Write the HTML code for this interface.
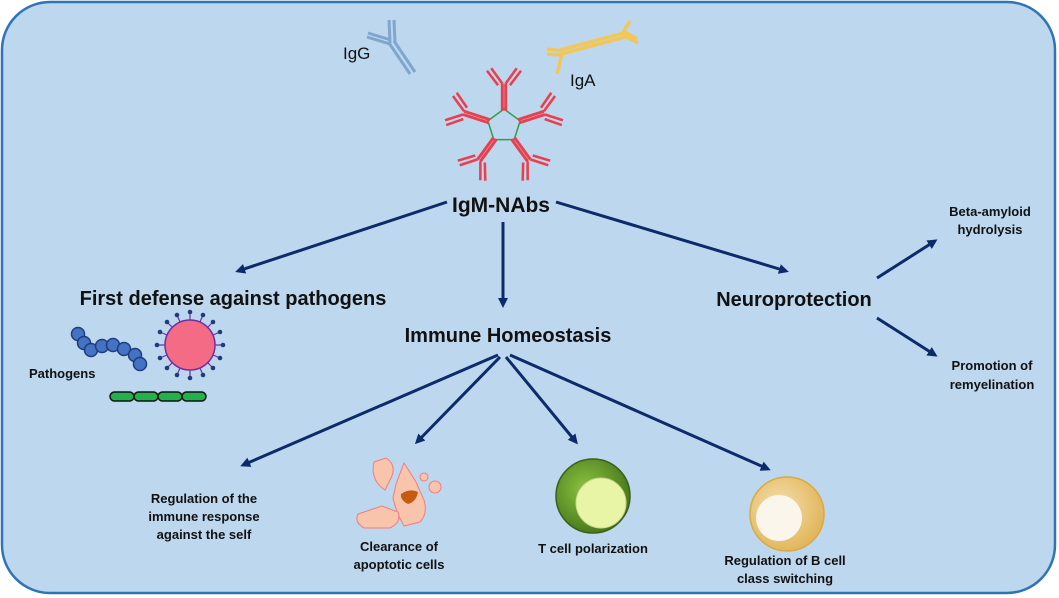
<!DOCTYPE html>
<html><head><meta charset="utf-8"><style>
html,body{margin:0;padding:0;background:#fff;}
svg{display:block;}
text{font-family:"Liberation Sans",Arial,sans-serif;fill:#111;}
.b{font-weight:bold;}
</style></head><body>
<svg width="1059" height="598" viewBox="0 0 1059 598" xmlns="http://www.w3.org/2000/svg">
<defs>
<marker id="ah" markerWidth="10" markerHeight="10" refX="7" refY="5" orient="auto" markerUnits="userSpaceOnUse">
<path d="M0,0 L10,5 L0,10 Z" fill="#0d2b6b"/>
</marker>
<g id="yr">
<path d="M-2,-18 V-50 M2,-18 V-50" stroke="#e8404f" stroke-width="3.5"/>
<path d="M-2,-50 L-15,-68 M2,-50 L15,-68 M-7,-48 L-20,-65 M7,-48 L20,-65" stroke="#e8404f" stroke-width="3"/>
</g>
<radialGradient id="tg" cx="40%" cy="40%" r="60%"><stop offset="0" stop-color="#8cc43f"/><stop offset="1" stop-color="#4a7a1e"/></radialGradient>
<radialGradient id="bg" cx="40%" cy="40%" r="60%"><stop offset="0" stop-color="#f5e0b0"/><stop offset="1" stop-color="#e2b75d"/></radialGradient>
</defs>
<rect x="2" y="2" width="1053" height="591" rx="48" fill="#bdd7ee" stroke="#2e75b6" stroke-width="2.5"/>

<!-- IgG -->
<g stroke="#7fa6cf" stroke-width="3" fill="none">
<path d="M389,43 L410,74 M394,41 L415,72"/>
<path d="M390,43 L389,20 M395,43 L394,20"/>
<path d="M390,44 L367,37 M391,40 L368,33"/>
</g>
<text x="343" y="59" font-size="17">IgG</text>
<!-- IgA -->
<g stroke="#f2c75a" stroke-width="3.5" fill="none">
<path d="M560,50 L624,33 M561,54 L625,37"/>
<path d="M562,51 L547,49 M562,55 L547,54 M562,54 L557,74"/>
<path d="M622,34 L630,21 M623,35 L638,43 M623,31 L637,39"/>
</g>
<text x="570" y="86" font-size="17">IgA</text>

<!-- IgM pentamer -->
<g transform="translate(504,126) scale(0.85)">
<polygon points="0,-20 19,-6 12,16 -12,16 -19,-6" fill="none" stroke="#2ea04a" stroke-width="1.8"/>
<use href="#yr" transform="rotate(0)"/>
<use href="#yr" transform="rotate(72)"/>
<use href="#yr" transform="rotate(144)"/>
<use href="#yr" transform="rotate(216)"/>
<use href="#yr" transform="rotate(288)"/>
</g>

<text x="501" y="212" font-size="21" class="b" text-anchor="middle">IgM-NAbs</text>

<g stroke="#0d2b6b" stroke-width="3" fill="none" marker-end="url(#ah)">
<line x1="447" y1="202" x2="238" y2="271"/>
<line x1="503" y1="222" x2="503" y2="305"/>
<line x1="556" y1="202" x2="786" y2="271"/>
<line x1="877" y1="278" x2="935" y2="241"/>
<line x1="877" y1="318" x2="935" y2="355"/>
<line x1="498" y1="355" x2="243" y2="465"/>
<line x1="500" y1="357" x2="417" y2="442"/>
<line x1="506" y1="357" x2="576" y2="442"/>
<line x1="510" y1="355" x2="768" y2="469"/>
</g>

<text x="233" y="305" font-size="20" class="b" text-anchor="middle">First defense against pathogens</text>
<text x="508" y="342" font-size="20" class="b" text-anchor="middle">Immune Homeostasis</text>
<text x="794" y="306" font-size="20" class="b" text-anchor="middle">Neuroprotection</text>

<!-- pathogens -->
<g fill="#4472c4" stroke="#1f3d7a" stroke-width="1.5">
<circle cx="78" cy="334" r="6.5"/><circle cx="84" cy="343" r="6.5"/><circle cx="91" cy="350" r="6.5"/>
<circle cx="102" cy="346" r="6.5"/><circle cx="113" cy="345" r="6.5"/><circle cx="124" cy="349" r="6.5"/>
<circle cx="135" cy="355" r="6.5"/><circle cx="140" cy="364" r="6.5"/>
</g>
<g transform="translate(190,345)">
<g stroke="#7030a0" stroke-width="1.2">
<line x1="-33" y1="0" x2="33" y2="0"/><line x1="0" y1="-33" x2="0" y2="33"/>
<line x1="-23" y1="-23" x2="23" y2="23"/><line x1="23" y1="-23" x2="-23" y2="23"/>
<line x1="-30" y1="-13" x2="30" y2="13"/><line x1="30" y1="-13" x2="-30" y2="13"/>
<line x1="-13" y1="-30" x2="13" y2="30"/><line x1="13" y1="-30" x2="-13" y2="30"/>
</g>
<g fill="#1f3d7a">
<circle cx="-33" cy="0" r="2.3"/><circle cx="33" cy="0" r="2.3"/><circle cx="0" cy="-33" r="2.3"/><circle cx="0" cy="33" r="2.3"/>
<circle cx="-23" cy="-23" r="2.3"/><circle cx="23" cy="23" r="2.3"/><circle cx="23" cy="-23" r="2.3"/><circle cx="-23" cy="23" r="2.3"/>
<circle cx="-30" cy="-13" r="2.3"/><circle cx="30" cy="13" r="2.3"/><circle cx="30" cy="-13" r="2.3"/><circle cx="-30" cy="13" r="2.3"/>
<circle cx="-13" cy="-30" r="2.3"/><circle cx="13" cy="30" r="2.3"/><circle cx="13" cy="-30" r="2.3"/><circle cx="-13" cy="30" r="2.3"/>
</g>
<circle cx="0" cy="0" r="25" fill="#f46b85" stroke="#7030a0" stroke-width="1.5"/>
</g>
<text x="29" y="378" font-size="13" class="b">Pathogens</text>
<g fill="#23b14d" stroke="#111" stroke-width="1.5">
<rect x="110" y="392" width="24" height="9" rx="4.5"/><rect x="134" y="392" width="24" height="9" rx="4.5"/>
<rect x="158" y="392" width="24" height="9" rx="4.5"/><rect x="182" y="392" width="24" height="9" rx="4.5"/>
</g>

<!-- apoptotic cells -->
<g fill="#f8c4ab" stroke="#f07d7d" stroke-width="1">
<path d="M374,462 L386,458 Q396,464 392,476 L385,490 Q370,480 374,462 Z"/>
<path d="M396,484 L404,463 L416,482 L424,500 Q428,514 420,522 L404,526 Q396,512 393,498 Z"/>
<path d="M358,514 L382,506 L398,512 Q402,522 390,528 L364,528 Q354,522 358,514 Z"/>
<circle cx="424" cy="477" r="4"/><circle cx="435" cy="487" r="6"/>
</g>
<path d="M401,494 Q410,488 418,492 Q416,502 408,504 Q400,500 401,494 Z" fill="#c55a11"/>
<text x="399" y="551" font-size="13" class="b" text-anchor="middle">Clearance of</text>
<text x="399" y="569" font-size="13" class="b" text-anchor="middle">apoptotic cells</text>

<!-- T cell -->
<circle cx="593" cy="496" r="37" fill="url(#tg)" stroke="#3c5f1a" stroke-width="1.5"/>
<circle cx="601" cy="503" r="25" fill="#e8f5a6" stroke="#c8d68a" stroke-width="1"/>
<text x="593" y="553" font-size="13" class="b" text-anchor="middle">T cell polarization</text>

<!-- B cell -->
<circle cx="787" cy="514" r="37" fill="url(#bg)" stroke="#d9aa40" stroke-width="1.5"/>
<circle cx="779" cy="518" r="23" fill="#fbf6ec"/>
<text x="785" y="565" font-size="13" class="b" text-anchor="middle">Regulation of B cell</text>
<text x="785" y="583" font-size="13" class="b" text-anchor="middle">class switching</text>

<text x="204" y="503" font-size="13" class="b" text-anchor="middle">Regulation of the</text>
<text x="204" y="521" font-size="13" class="b" text-anchor="middle">immune response</text>
<text x="204" y="539" font-size="13" class="b" text-anchor="middle">against the self</text>

<text x="990" y="216" font-size="13" class="b" text-anchor="middle">Beta-amyloid</text>
<text x="990" y="234" font-size="13" class="b" text-anchor="middle">hydrolysis</text>
<text x="992" y="370" font-size="13" class="b" text-anchor="middle">Promotion of</text>
<text x="992" y="389" font-size="13" class="b" text-anchor="middle">remyelination</text>
</svg>
</body></html>
